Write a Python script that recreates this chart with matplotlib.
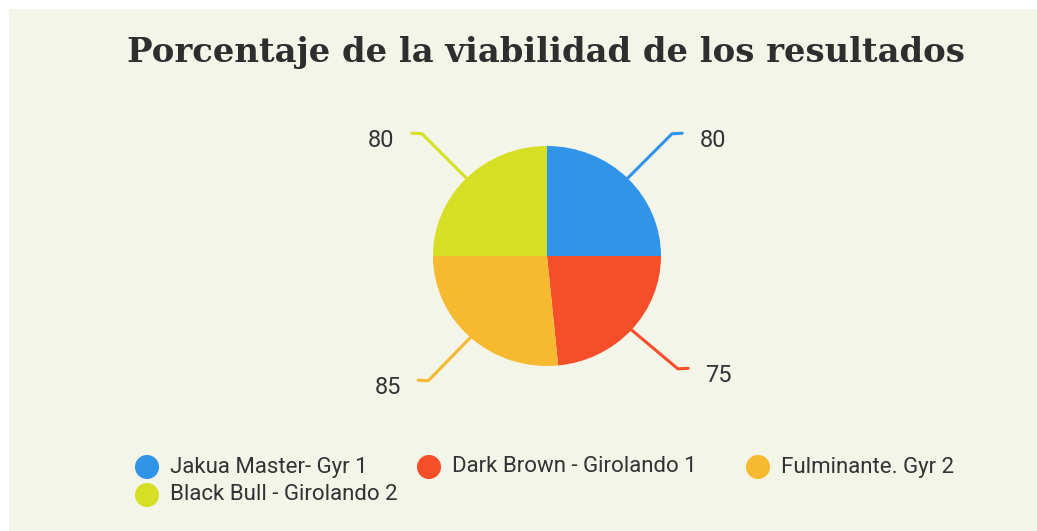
import numpy as np
import matplotlib.pyplot as plt
from matplotlib.patches import Rectangle

# Datos del gráfico
razas = ["Jakua Master- Gyr 1", "Dark Brown - Girolando 1",
         "Fulminante. Gyr 2", "Black Bull - Girolando 2"]
viabilidad = [80, 75, 85, 80]
colores = ["#3094E9", "#F54F2A", "#F7B92F", "#D6DF23"]
titulo = "Porcentaje de la viabilidad de los resultados"

W, H = 1037, 531
fig = plt.figure(figsize=(W / 100, H / 100), dpi=100)
fig.patch.set_facecolor("white")

# fondo crema en coordenadas de pixel
bg = fig.add_axes([0, 0, 1, 1])
bg.set_xlim(0, W)
bg.set_ylim(H, 0)
bg.axis("off")
bg.add_patch(Rectangle((9, 9), W - 9, H - 9, facecolor="#F3F5E9", edgecolor="none"))

bg.text(546, 62, titulo, ha="center", va="baseline", fontsize=24.4,
        fontweight="heavy", family="DejaVu Serif", color="#2E2E2E")

fuente = "Roboto"

# pastel
ax = fig.add_axes([319 / W, 55 / H, 456 / W, 440 / H])
wedges, _ = ax.pie(viabilidad, colors=colores, startangle=90, counterclock=False,
                   radius=1, wedgeprops=dict(linewidth=0))
ax.set_aspect("auto")
ax.set_xlim(-2, 2)
ax.set_ylim(-2, 2)
ax.axis("off")

# lineas guia y etiquetas
for w, v, c in zip(wedges, viabilidad, colores):
    mid = np.deg2rad((w.theta1 + w.theta2) / 2)
    cx, sy = np.cos(mid), np.sin(mid)
    lado = 1 if cx > 0 else -1
    x1, y1 = 1.55 * cx, 1.55 * sy
    x2 = x1 + lado * 0.09
    ax.plot([cx, x1, x2], [sy, y1 + 0.015, y1 + 0.02], color=c, lw=2.2,
            solid_capstyle="round", solid_joinstyle="round", clip_on=False)
    ax.text(x2 + lado * 0.15, y1 - 0.045, str(v), ha="left" if lado > 0 else "right",
            va="center", fontsize=17, family=fuente, color="#333333")

# leyenda
pos_leyenda = [(147, 467), (429, 467), (758, 467), (147, 495)]
for (lx, ly), nombre, c in zip(pos_leyenda, razas, colores):
    bg.scatter([lx], [ly], s=300, color=c, edgecolors="none")
    bg.text(lx + 23, ly, nombre, ha="left", va="center", fontsize=16,
            family=fuente, color="#333333")

fig.savefig("out.png", dpi=100)
